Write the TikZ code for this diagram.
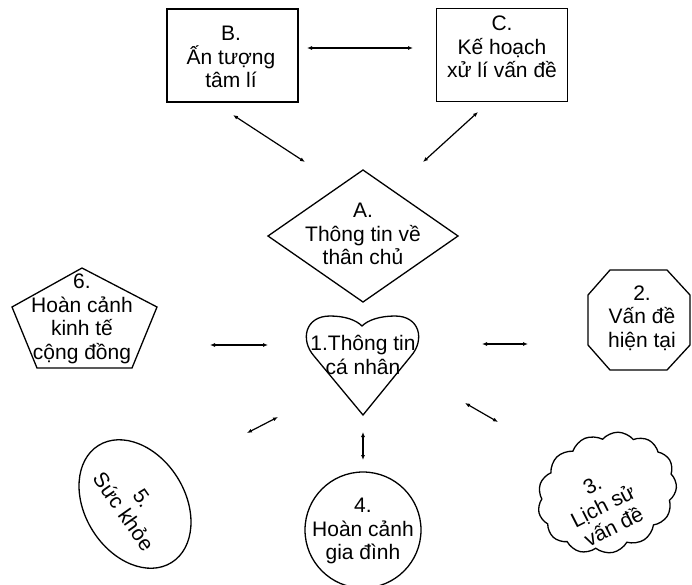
\documentclass[tikz,border=0pt]{standalone}
\usepackage{fontspec}
\setmainfont{Liberation Sans}
\usetikzlibrary{arrows.meta,shapes.geometric,shapes.symbols}
\begin{document}
\begin{tikzpicture}[x=1pt,y=-1pt,
  txt/.style={font=\fontsize{21}{23.5}\selectfont, align=center, inner sep=0pt},
  shp/.style={draw, line width=1.3pt},
  box/.style={shp, line width=1.6pt, minimum width=131pt, minimum height=93pt},
  link/.style={line width=1.2pt, {Latex[length=5pt,width=4pt]}-{Latex[length=5pt,width=4pt]}}]
\useasboundingbox (0,0) rectangle (692,584);
% top boxes
\node[box] (B) at (232.5,55.5) {};
\node[txt] (Bt) at (231,57) {B.\\Ấn tượng\\tâm lí};
\node[box] (C) at (502,55) {};
\node[txt] (Ct) at (502,47) {C.\\Kế hoạch\\xử lí vấn đề};
% diamond A
\draw[shp] (363,170) -- (458,236) -- (363,302) -- (268,236) -- cycle;
\node[txt] (A) at (363,234) {A.\\Thông tin về\\thân chủ};
% heart 1
\draw[shp] (363,415) -- (314,356) .. controls (300,340) and (305,316) .. (330,316)
  .. controls (345,316) and (356,320) .. (362,326)
  .. controls (368,320) and (380,316) .. (395,316)
  .. controls (420,316) and (425,340) .. (411,356) -- cycle;
\node[txt] (n1) at (363,355) {1.Thông tin\\cá nhân};
% pentagon 6
\draw[shp] (82,268) -- (157,307) -- (132,368) -- (37,368) -- (12,307) -- cycle;
\node[txt] (n6) at (82,319) {6.\\Hoàn cảnh\\kinh tế\\cộng đồng};
% octagon 2
\draw[shp] (610,270) -- (667,270) -- (690,295) -- (690,345) -- (667,370) -- (610,370) -- (588,345) -- (588,295) -- cycle;
\node[txt] (n2) at (642,318) {2.\\Vấn đề\\hiện tại};
% circle 4
\node[shp, circle, minimum size=116pt] (c4) at (363,530) {};
\node[txt] (n4) at (363,531) {4.\\Hoàn cảnh\\gia đình};
% ellipse 5
\node[shp, ellipse, minimum width=138pt, minimum height=100pt, rotate=-58] (e5) at (135,504) {};
\node[txt, rotate=-55] (n5) at (133,505) {5.\\Sức khỏe};
% cloud 3
\node[shp, cloud, cloud puffs=13, cloud puff arc=100, minimum width=142pt, minimum height=118pt, rotate=22] (k3) at (607,493) {};
\node[txt, rotate=27] (n3) at (603,506) {3.\\Lịch sử\\vấn đề};
% arrow endpoints
\coordinate (bc1) at (307,48);  \coordinate (bc2) at (413,48);
\coordinate (ba1) at (233,115); \coordinate (ba2) at (305,162);
\coordinate (ca1) at (478,112); \coordinate (ca2) at (423,162);
\coordinate (h61) at (210,345); \coordinate (h62) at (268,345);
\coordinate (h21) at (482,344); \coordinate (h22) at (528,344);
\coordinate (h41) at (363,432); \coordinate (h42) at (363,460);
\coordinate (h51) at (247,433); \coordinate (h52) at (278,417);
\coordinate (h31) at (465,403); \coordinate (h32) at (498,422);
\draw[link] (bc1) -- (bc2);
\draw[link] (ba1) -- (ba2);
\draw[link] (ca1) -- (ca2);
\draw[link] (h61) -- (h62);
\draw[link] (h21) -- (h22);
\draw[link] (h41) -- (h42);
\draw[link] (h51) -- (h52);
\draw[link] (h31) -- (h32);
\end{tikzpicture}
\end{document}
